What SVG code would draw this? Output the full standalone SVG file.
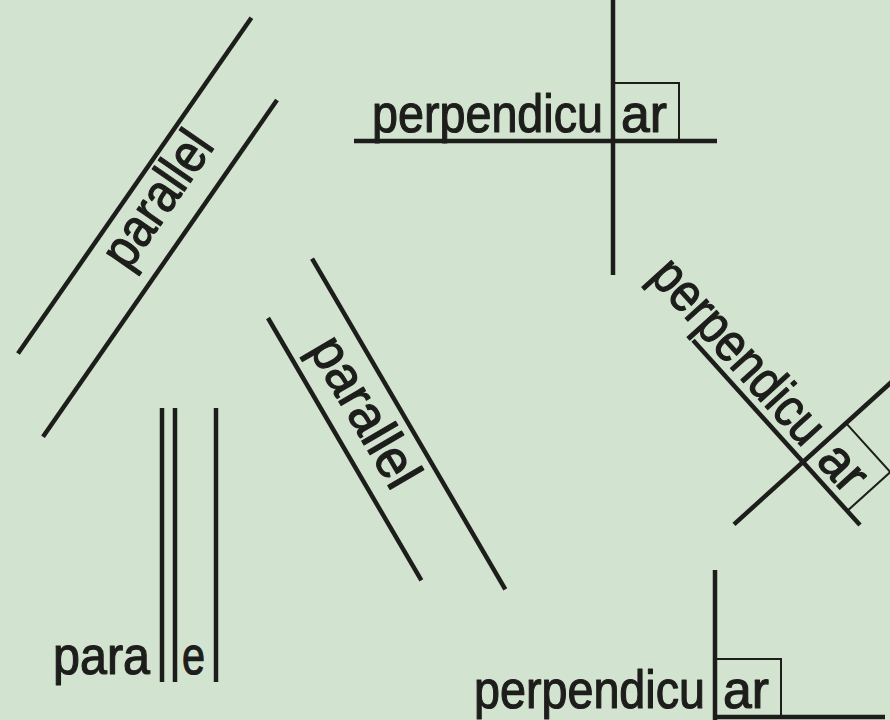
<svg xmlns="http://www.w3.org/2000/svg" width="890" height="720" viewBox="0 0 890 720">
<style>
.ln{stroke:#1d1d1b;stroke-width:4.5;fill:none;stroke-linecap:butt}
.bx{stroke:#1d1d1b;stroke-width:2;fill:none}
.t{font-family:"Liberation Sans",Arial,sans-serif;font-size:54px;fill:#1d1d1b;stroke:#1d1d1b;stroke-width:1.2;stroke-linejoin:round}
</style>
<defs>
<g id="perpLabel">
 <rect class="bx" x="614" y="83" width="65" height="58"/>
 <text class="t" x="372" y="132" textLength="231" lengthAdjust="spacingAndGlyphs">perpendicu</text>
 <text class="t" x="621" y="132" textLength="46" lengthAdjust="spacingAndGlyphs">ar</text>
</g>
</defs>
<rect width="890" height="720" fill="#d2e4cf"/>
<g id="perp-top">
 <use href="#perpLabel"/>
 <line class="ln" x1="354" y1="141" x2="717" y2="141"/>
 <line class="ln" x1="613" y1="0" x2="613" y2="275"/>
</g>
<g id="perp-right" transform="translate(803,462) rotate(47.9) translate(-613,-141)">
 <use href="#perpLabel"/>
 <line class="ln" x1="449" y1="141" x2="698" y2="141"/>
 <line class="ln" x1="613" y1="0" x2="613" y2="234"/>
</g>
<g id="perp-bottom" transform="translate(102,576)">
 <use href="#perpLabel"/>
 <line class="ln" x1="611" y1="141" x2="783" y2="141"/>
 <line class="ln" x1="613" y1="-6" x2="613" y2="150"/>
</g>
<g id="parallel-1" transform="translate(277,100) rotate(-55.2)">
 <line class="ln" x1="-410" y1="0" x2="0" y2="0"/>
 <line class="ln" x1="-356" y1="-68" x2="53" y2="-68"/>
 <text class="t" x="-226" y="-24" textLength="153" lengthAdjust="spacingAndGlyphs">parallel</text>
</g>
<g id="parallel-2" transform="translate(268,318) rotate(59.7)">
 <line class="ln" x1="0" y1="0" x2="304" y2="0"/>
 <line class="ln" x1="-29" y1="-68" x2="354" y2="-68"/>
 <text class="t" x="47" y="-19" textLength="166" lengthAdjust="spacingAndGlyphs">parallel</text>
</g>
<g id="parallel-3">
 <line class="ln" x1="162" y1="408" x2="162" y2="682"/>
 <line class="ln" x1="175" y1="408" x2="175" y2="682"/>
 <line class="ln" x1="216" y1="408" x2="216" y2="682"/>
 <text class="t" x="53" y="674" textLength="97" lengthAdjust="spacingAndGlyphs">para</text>
 <text class="t" x="182" y="674" textLength="23" lengthAdjust="spacingAndGlyphs">e</text>
</g>
</svg>
